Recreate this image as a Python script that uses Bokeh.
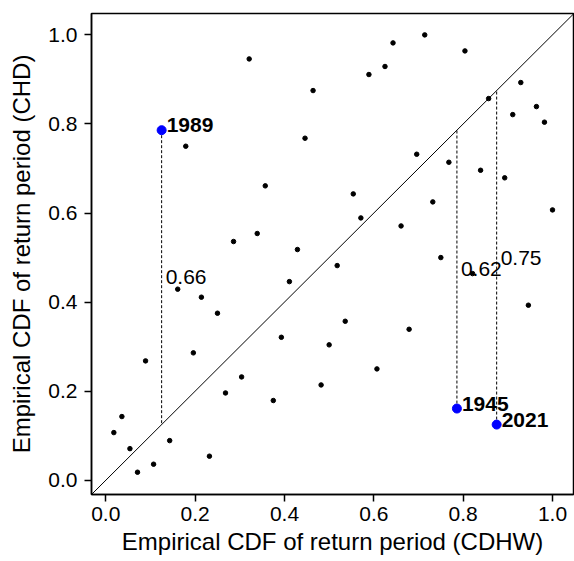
from bokeh.plotting import figure
from bokeh.models import Range1d, Slope, FixedTicker, NumeralTickFormatter, ColumnDataSource
from bokeh.core.properties import value
from bokeh.embed import file_html
from bokeh.resources import INLINE

# Empirical CDF values (CDHW on x, CHD on y) for all years
cdf_cdhw = [0.018, 0.036, 0.054, 0.071, 0.089, 0.107, 0.143, 0.161, 0.179, 0.196,
            0.214, 0.232, 0.250, 0.268, 0.286, 0.304, 0.321, 0.339, 0.357, 0.375,
            0.393, 0.411, 0.429, 0.446, 0.464, 0.482, 0.500, 0.518, 0.536, 0.554,
            0.571, 0.589, 0.607, 0.625, 0.643, 0.661, 0.679, 0.696, 0.714, 0.732,
            0.750, 0.768, 0.804, 0.821, 0.839, 0.857, 0.893, 0.911, 0.929, 0.946,
            0.964, 0.982, 1.000]
cdf_chd = [0.107, 0.143, 0.071, 0.018, 0.268, 0.036, 0.089, 0.429, 0.750, 0.286,
           0.411, 0.054, 0.375, 0.196, 0.536, 0.232, 0.946, 0.554, 0.661, 0.179,
           0.321, 0.446, 0.518, 0.768, 0.875, 0.214, 0.304, 0.482, 0.357, 0.643,
           0.589, 0.911, 0.250, 0.929, 0.982, 0.571, 0.339, 0.732, 1.000, 0.625,
           0.500, 0.714, 0.964, 0.464, 0.696, 0.857, 0.679, 0.821, 0.893, 0.393,
           0.839, 0.804, 0.607]

# Highlighted years
hl_years = ["1989", "1945", "2021"]
hl_cdhw = [0.125, 0.786, 0.875]
hl_chd = [0.786, 0.161, 0.125]
diff_labels = ["0.66", "0.62", "0.75"]

x_ticks = [0.0, 0.2, 0.4, 0.6, 0.8, 1.0]
y_ticks = [0.0, 0.2, 0.4, 0.6, 0.8, 1.0]

FONT = "Liberation Sans"

p = figure(width=574, height=561, output_backend="svg", toolbar_location=None,
           x_range=Range1d(-0.032, 1.047), y_range=Range1d(-0.032, 1.048),
           min_border_left=91, min_border_right=1, min_border_top=13, min_border_bottom=67)
p.background_fill_color = "white"
p.border_fill_color = "white"
p.xgrid.visible = False
p.ygrid.visible = False
p.outline_line_color = "black"
p.outline_line_width = 1.5
p.outline_line_alpha = 1

for ax, ticks in ((p.xaxis, x_ticks), (p.yaxis, y_ticks)):
    ax.ticker = FixedTicker(ticks=ticks)
    ax.formatter = NumeralTickFormatter(format="0.0")
    ax.major_tick_in = 0
    ax.major_tick_out = 7
    ax.minor_tick_line_color = None
    ax.major_tick_line_width = 1.5
    ax.axis_line_width = 1.5
    ax.axis_line_color = "black"
    ax.major_tick_line_color = "black"
    ax.major_label_text_font = FONT
    ax.major_label_text_font_size = "21px"
    ax.major_label_text_color = "black"
    ax.axis_label_text_font = FONT
    ax.axis_label_text_font_size = "24px"
    ax.axis_label_text_font_style = "normal"
    ax.axis_label_text_color = "black"

p.xaxis.axis_label = "Empirical CDF of return period (CDHW)"
p.yaxis.axis_label = "Empirical CDF of return period (CHD)"
p.xaxis.major_label_standoff = 5
p.xaxis.axis_label_standoff = 4
p.yaxis.major_label_standoff = 7
p.yaxis.axis_label_standoff = 10

# 1:1 diagonal
p.add_layout(Slope(gradient=1, y_intercept=0, line_color="black", line_width=1))

# all points
p.scatter(cdf_cdhw, cdf_chd, size=4.5, color="black")

# dashed vertical distance to the diagonal
hl = ColumnDataSource(dict(x=hl_cdhw, y=hl_chd, diag=hl_cdhw, year=hl_years,
                           mid=[(a + b) / 2 for a, b in zip(hl_chd, hl_cdhw)],
                           lab=diff_labels))
p.segment(x0="x", y0="y", x1="x", y1="diag", source=hl, line_color="black",
          line_width=1, line_dash="3 2")
p.scatter("x", "y", source=hl, size=9, color="#0000ff")
p.text("x", "y", text="year", source=hl, x_offset=5, y_offset=-5,
       text_font=value(FONT), text_font_size="21px", text_font_style="bold",
       text_color="black", text_baseline="alphabetic", text_align="left")
p.text("x", "mid", text="lab", source=hl, x_offset=4, y_offset=0,
       text_font=value(FONT), text_font_size="21px", text_color="black",
       text_baseline="alphabetic", text_align="left")

open("out.html", "w").write(file_html(p, INLINE))
